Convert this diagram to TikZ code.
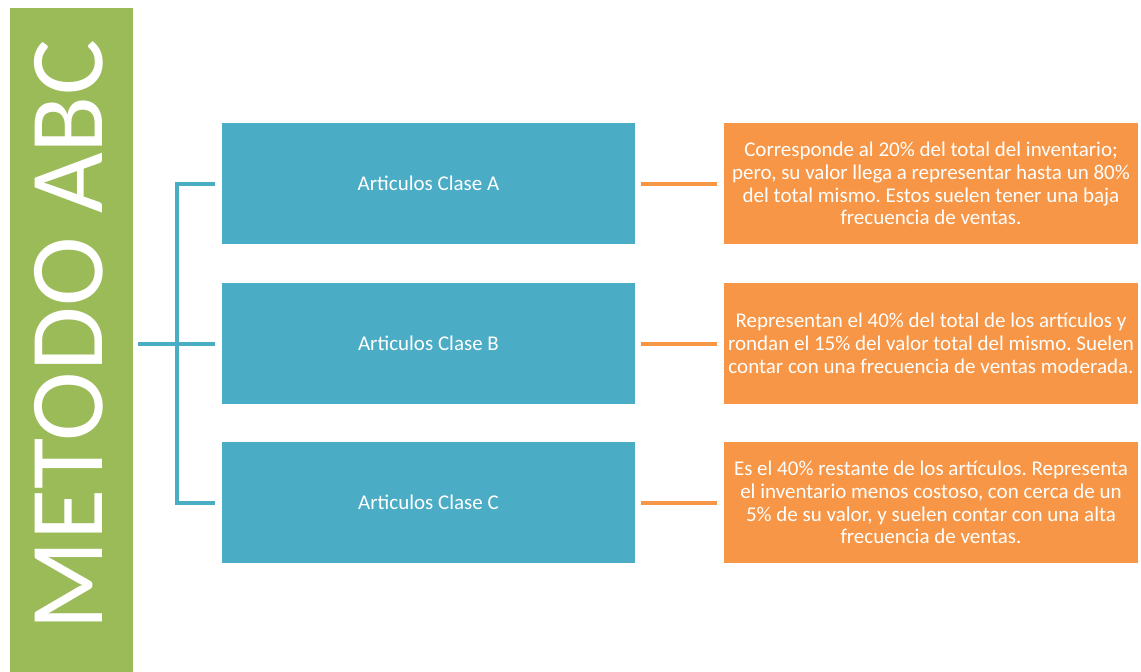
\documentclass[tikz,border=0pt]{standalone}
\usepackage{fontspec}
\setmainfont{Carlito}
\frenchspacing
\usetikzlibrary{calc}
\definecolor{abcgreen}{HTML}{9BBB59}
\definecolor{abcblue}{HTML}{4BACC6}
\definecolor{abcorange}{HTML}{F79646}
\tikzset{
  clase/.style={fill=abcblue, minimum width=413pt, minimum height=121pt, inner sep=0pt, text=white, font=\fontsize{21}{23}\selectfont},
  nota/.style={fill=abcorange, minimum width=414pt, minimum height=121pt, inner sep=0pt, text=white, align=center, font=\fontsize{21}{22.8}\selectfont},
  bracket/.style={abcblue, line width=4pt},
  enlace/.style={abcorange, line width=4pt}
}
\begin{document}
\begin{tikzpicture}[x=1pt,y=-1pt]
			%%%%% START %%%%%
			\useasboundingbox (0,0) rectangle (1141,672);
			
			\node[fill=abcgreen, minimum width=123pt, minimum height=664pt, inner sep=0pt] (metodo) at (71.5,340) {};
			\node[rotate=90, text=white, inner sep=0pt, font=\fontsize{105}{105}\selectfont] (titulo) at (69,335) {METODO ABC};
			
			\node[clase] (claseA) at (428.5,183.5) {Articulos Clase A};
			\node[clase] (claseB) at (428.5,343.5) {Articulos Clase B};
			\node[clase] (claseC) at (428.5,502.5) {Articulos Clase C};
			
			\node[nota] (notaA) at (931,183.5) {Corresponde al 20\% del total del inventario;\\pero, su valor llega a representar hasta un 80\%\\del total mismo. Estos suelen tener una baja\\frecuencia de ventas.};
			\node[nota] (notaB) at (931,343.5) {Representan el 40\% del total de los artículos y\\rondan el 15\% del valor total del mismo. Suelen\\contar con una frecuencia de ventas moderada.};
			\node[nota] (notaC) at (931,502.5) {Es el 40\% restante de los artículos. Representa\\el inventario menos costoso, con cerca de un\\5\% de su valor, y suelen contar con una alta\\frecuencia de ventas.};
			
			\coordinate (eje) at (177,0);
			\draw[bracket] ([xshift=5pt]metodo.east |- claseB) -- ([xshift=-7pt]claseB.west);
			\draw[bracket] ([xshift=-7pt]claseA.west) -| (eje |- claseC) -- ([xshift=-7pt]claseC.west);
			
			\draw[enlace] ([xshift=6pt]claseA.east) -- ([xshift=-7pt]notaA.west);
			\draw[enlace] ([xshift=6pt]claseB.east) -- ([xshift=-7pt]notaB.west);
			\draw[enlace] ([xshift=6pt]claseC.east) -- ([xshift=-7pt]notaC.west);
			%%%%% END %%%%%
\end{tikzpicture}
\end{document}
